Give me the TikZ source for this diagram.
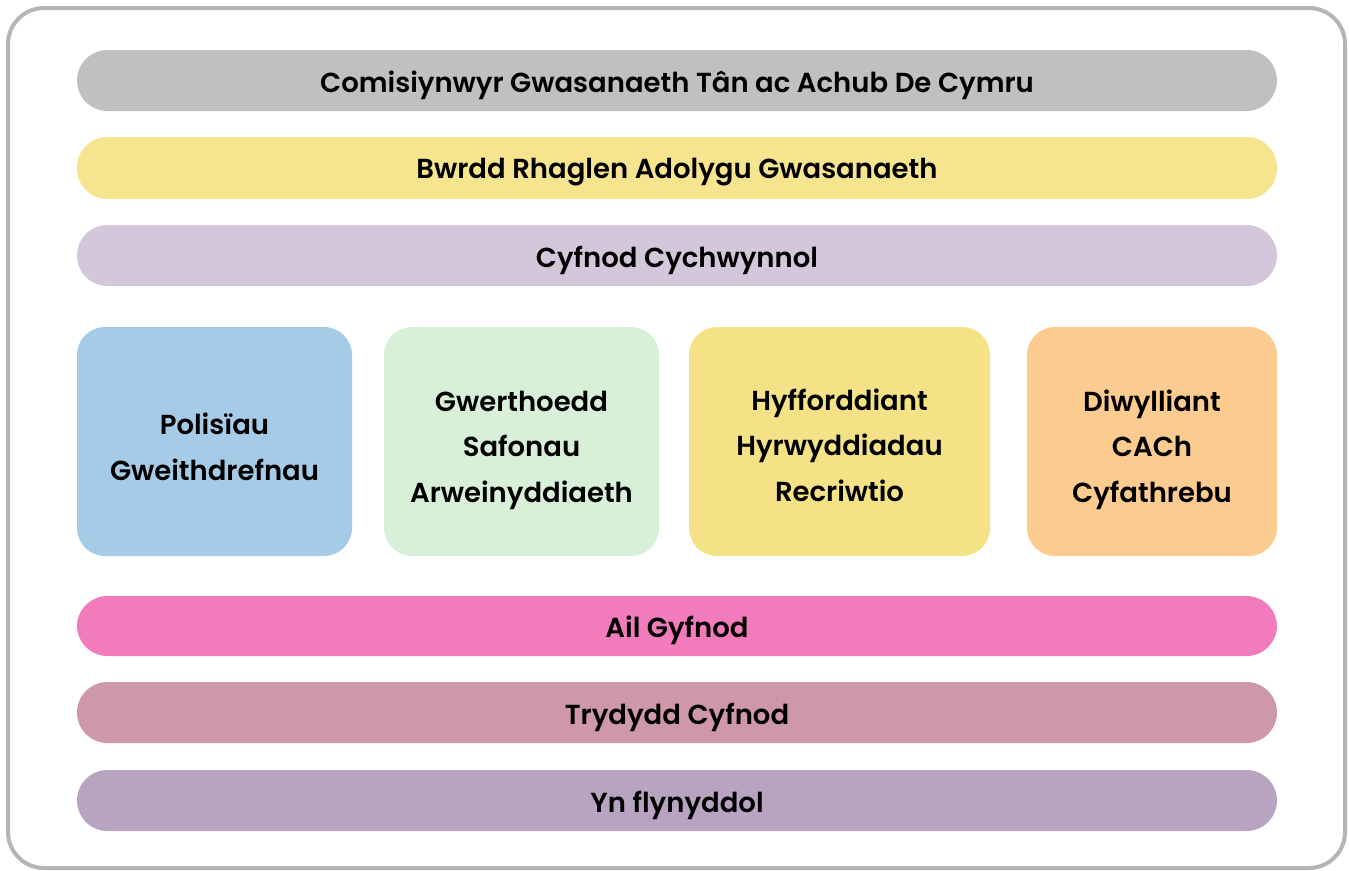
\documentclass[tikz,border=0pt]{standalone}
\usepackage{fontspec}
\setmainfont{Poppins}[BoldFont={Poppins SemiBold}]
\begin{document}
\begin{tikzpicture}[x=1pt,y=-1pt,
  bar/.style={rounded corners=30.5pt, inner sep=0pt},
  lbl/.style={font=\fontsize{27.5}{45.5}\selectfont\bfseries, align=center, text=black},
]
\useasboundingbox (0,0) rectangle (1349,870);
\draw[line width=4pt, draw={rgb,255:red,181;green,181;blue,181}, rounded corners=36pt] (8,8) rectangle (1345,868);
\definecolor{cgray}{HTML}{C0C0C0}
\definecolor{cyel}{HTML}{F7E48F}
\definecolor{clil}{HTML}{D4C7DC}
\definecolor{cblue}{HTML}{A6CBE6}
\definecolor{cgreen}{HTML}{D9F0D8}
\definecolor{cyel2}{HTML}{F5E286}
\definecolor{corange}{HTML}{FCCB8F}
\definecolor{cpink}{HTML}{F27BBC}
\definecolor{crose}{HTML}{CE98A8}
\definecolor{cpurp}{HTML}{B8A3C1}
\fill[cgray, bar] (77,50) rectangle (1277,111);
\node[lbl] (b1) at (677,85) {Comisiynwyr Gwasanaeth Tân ac Achub De Cymru};
\fill[cyel, bar] (77,137) rectangle (1277,199);
\node[lbl] (b2) at (677,172) {Bwrdd Rhaglen Adolygu Gwasanaeth};
\fill[clil, bar] (77,225) rectangle (1277,286);
\node[lbl] (b3) at (677,260) {Cyfnod Cychwynnol};
\fill[cblue, rounded corners=28pt] (77,327) rectangle (352,556);
\node[lbl] (c1) at (214.5,447) {Polisïau\\Gweithdrefnau};
\fill[cgreen, rounded corners=28pt] (384,327) rectangle (659,556);
\node[lbl] (c2) at (521.5,450) {Gwerthoedd\\Safonau\\Arweinyddiaeth};
\fill[cyel2, rounded corners=28pt] (689,327) rectangle (990,556);
\node[lbl] (c3) at (839.5,445) {Hyfforddiant\\Hyrwyddiadau\\Recriwtio};
\fill[corange, rounded corners=28pt] (1027,327) rectangle (1277,556);
\node[lbl] (c4) at (1152,449.5) {Diwylliant\\CACh\\Cyfathrebu};
\fill[cpink, bar] (77,596) rectangle (1277,656);
\node[lbl] (b4) at (677,630) {Ail Gyfnod};
\fill[crose, bar] (77,682) rectangle (1277,743);
\node[lbl] (b5) at (677,717) {Trydydd Cyfnod};
\fill[cpurp, bar] (77,770) rectangle (1277,831);
\node[lbl] (b6) at (677,805) {Yn flynyddol};
\end{tikzpicture}
\end{document}
